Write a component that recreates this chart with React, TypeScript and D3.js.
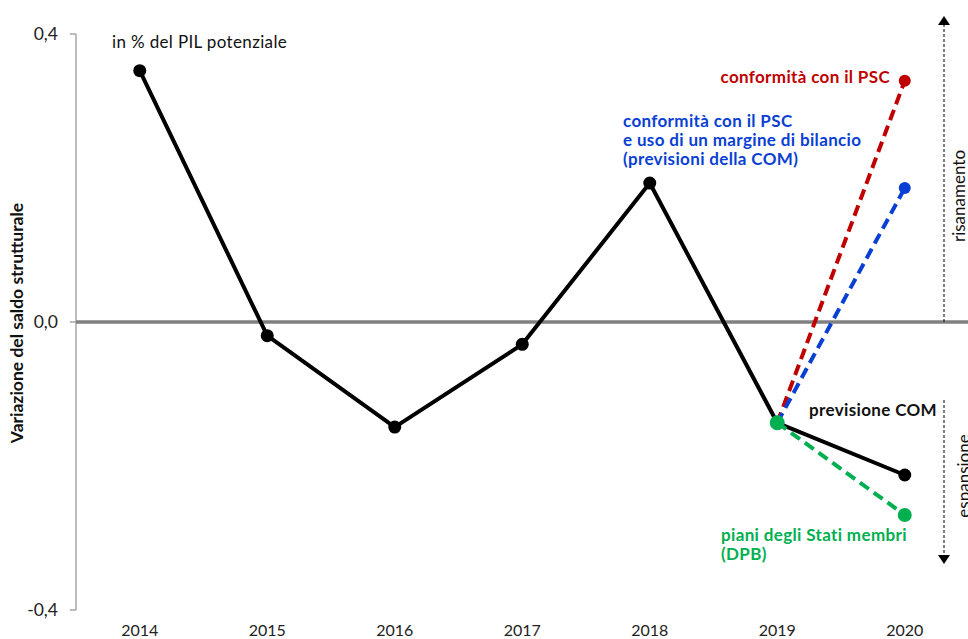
import React from "react";
import * as d3 from "d3";

const years = ["2014", "2015", "2016", "2017", "2018", "2019", "2020"];
const comValues = [0.349, -0.019, -0.146, -0.031, 0.193, -0.14, -0.2125];
const pscValues = [-0.14, 0.335]; // 2019 -> 2020
const marginValues = [-0.14, 0.186];
const dpbValues = [-0.14, -0.268];
const scenarioYears = ["2019", "2020"];
const yTicks = [-0.4, 0, 0.4];

const W = 968;
const H = 639;
const FONT = "Lato, 'Open Sans', sans-serif";

export default function App() {
  const x = d3.scalePoint<string>().domain(years).range([76, 968.5]).padding(0.5);
  const y = d3.scaleLinear().domain([-0.4, 0.4]).range([610, 34]);
  const fmt = (v: number) => d3.format(".1f")(v).replace(".", ",").replace("−", "-");

  const line = d3
    .line<[string, number]>()
    .x((d) => x(d[0]) as number)
    .y((d) => y(d[1]));

  const comPts: [string, number][] = years.map((yr, i) => [yr, comValues[i]]);
  const scen = (vals: number[]) => scenarioYears.map((yr, i) => [yr, vals[i]] as [string, number]);

  const RED = "#c00000";
  const BLUE = "#0a3fd4";
  const GREEN = "#00b050";
  const AF = 17;
  const LS = 0.35;

  return (
    <div style={{ position: "absolute", left: 0, top: 0 }}>
      <svg width={W} height={H} style={{ display: "block", fontFamily: FONT }}>
        <rect width={W} height={H} fill="#fff" />
        {/* y axis */}
        <line x1={76} x2={76} y1={y(0.4)} y2={y(-0.4)} stroke="#a6a6a6" strokeWidth={1.5} />
        {yTicks.map((t) => (
          <g key={t}>
            <line x1={70} x2={76} y1={y(t)} y2={y(t)} stroke="#a6a6a6" strokeWidth={1.5} />
            <text x={58} y={y(t)} dy="0.35em" textAnchor="end" fontSize={17.5} fill="#222">
              {fmt(t)}
            </text>
          </g>
        ))}
        {/* zero line */}
        <line x1={76} x2={W} y1={y(0)} y2={y(0)} stroke="#808080" strokeWidth={3.5} />
        {/* x labels */}
        {years.map((yr) => (
          <text key={yr} x={x(yr)} y={636} textAnchor="middle" fontSize={16} fill="#222">
            {yr}
          </text>
        ))}
        {/* y title */}
        <text
          transform={`translate(23,${323}) rotate(-90)`}
          textAnchor="middle"
          fontSize={17.5}
          fontWeight="bold"
          fill="#111"
        >
          Variazione del saldo strutturale
        </text>
        <text x={112} y={48} fontSize={AF} letterSpacing={LS} fill="#111">
          in % del PIL potenziale
        </text>

        {/* scenario dashed lines */}
        <path d={line(scen(pscValues)) || ""} fill="none" stroke={RED} strokeWidth={4} strokeDasharray="11 6" />
        <path d={line(scen(marginValues)) || ""} fill="none" stroke={BLUE} strokeWidth={4} strokeDasharray="11 6" />
        {/* black line */}
        <path d={line(comPts) || ""} fill="none" stroke="#000" strokeWidth={4} strokeLinejoin="round" />
        <path d={line(scen(dpbValues)) || ""} fill="none" stroke={GREEN} strokeWidth={4} strokeDasharray="11 6" />
        {comPts.map(([yr, v]) => (
          <circle key={yr} cx={x(yr)} cy={y(v)} r={6.5} fill="#000" />
        ))}
        <circle cx={x("2020")} cy={y(pscValues[1])} r={6} fill={RED} />
        <circle cx={x("2020")} cy={y(marginValues[1])} r={6} fill={BLUE} />
        <circle cx={x("2020")} cy={y(dpbValues[1])} r={7} fill={GREEN} />
        <circle cx={x("2019")} cy={y(dpbValues[0])} r={7.5} fill={GREEN} />

        {/* annotations */}
        <text x={890} y={83} textAnchor="end" fontSize={AF} letterSpacing={LS} fontWeight="bold" fill={RED}>
          conformità con il PSC
        </text>
        <text x={623} y={127} fontSize={AF} letterSpacing={LS} fontWeight="bold" fill={BLUE}>
          <tspan x={623}>conformità con il PSC</tspan>
          <tspan x={623} dy={19}>e uso di un margine di bilancio</tspan>
          <tspan x={623} dy={19}>(previsioni della COM)</tspan>
        </text>
        <text x={937} y={416} textAnchor="end" fontSize={AF} letterSpacing={LS} fontWeight="bold" fill="#111">
          previsione COM
        </text>
        <text x={721} y={541} fontSize={AF} letterSpacing={LS} fontWeight="bold" fill={GREEN}>
          <tspan x={721}>piani degli Stati membri</tspan>
          <tspan x={721} dy={19}>(DPB)</tspan>
        </text>

        {/* right arrows */}
        <line x1={944} x2={944} y1={24} y2={322} stroke="#000" strokeWidth={1} strokeDasharray="3 2" />
        <path d="M938,25 L950,25 L944,16 Z" fill="#000" />
        <line x1={944} x2={944} y1={400} y2={556} stroke="#000" strokeWidth={1} strokeDasharray="3 2" />
        <path d="M938,555 L950,555 L944,564 Z" fill="#000" />
        <text transform="translate(965,196) rotate(-90)" textAnchor="middle" fontSize={17} fill="#111">
          risanamento
        </text>
        <text transform="translate(970,476) rotate(-90)" textAnchor="middle" fontSize={17} fill="#111">
          espansione
        </text>
      </svg>
    </div>
  );
}
